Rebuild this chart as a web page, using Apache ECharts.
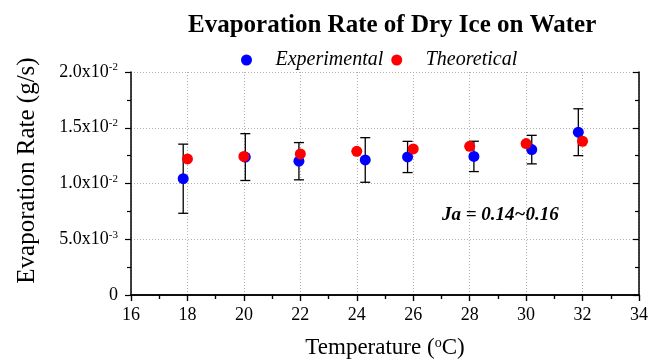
<!DOCTYPE html>
<html>
<head>
<meta charset="utf-8">
<script src="https://cdn.jsdelivr.net/npm/echarts@6/dist/echarts.min.js"></script>
<style>
  html, body { margin: 0; padding: 0; background: #fff; }
  #chart { width: 661px; height: 362px; }
</style>
</head>
<body>
<div id="chart"></div>
<script>
// data
var expTemp = [17.85, 20.05, 21.95, 24.3, 25.8, 28.15, 30.2, 31.85];
var expRate = [0.01043, 0.01237, 0.01200, 0.01211, 0.01238, 0.01243, 0.01304, 0.01460];
var expErr = [0.0031, 0.0021, 0.00167, 0.0020, 0.0014, 0.00136, 0.00128, 0.00210];

var theoTemp = [18, 20, 22, 24, 26, 28, 30, 32];
var theoRate = [0.01220, 0.01243, 0.01265, 0.01289, 0.01310, 0.01333, 0.01358, 0.01379];

var yTickValues = [0, 0.005, 0.01, 0.015, 0.02];
var yTickMantissa = ['0', '5.0', '1.0', '1.5', '2.0'];
var yTickExp = ['', '-3', '-2', '-2', '-2'];

var serif = 'Liberation Serif';
var chart = echarts.init(document.getElementById('chart'));

var expPoints = expTemp.map(function (t, i) { return [t, expRate[i]]; });
var theoPoints = theoTemp.map(function (t, i) { return [t, theoRate[i]]; });
var errData = expTemp.map(function (t, i) { return [t, expRate[i] - expErr[i], expRate[i] + expErr[i]]; });

function yLabel(v) {
  var i = yTickValues.findIndex(function (x) { return Math.abs(x - v) < 1e-9; });
  if (i < 0) return '';
  if (yTickExp[i] === '') return yTickMantissa[i];
  return yTickMantissa[i] + 'x10{sup|' + yTickExp[i] + '}';
}

var axisLine = { show: true, lineStyle: { color: '#000', width: 1.5 } };

var option = {
  backgroundColor: '#fff',
  animation: false,
  title: {
    text: 'Evaporation Rate of Dry Ice on Water',
    left: 183,
    top: 8,
    textStyle: { fontFamily: serif, fontWeight: 'bold', fontSize: 25, color: '#000' }
  },
  legend: {
    left: 236,
    top: 45,
    itemWidth: 24,
    itemHeight: 11,
    itemGap: 8,
    icon: 'circle',
    textStyle: { fontFamily: serif, fontStyle: 'italic', fontSize: 20, color: '#000', padding: [0, 0, 0, 12] },
    data: ['Experimental', 'Theoretical']
  },
  grid: { left: 131, right: 22, top: 72, bottom: 67, outerBoundsMode: 'none' },
  xAxis: [{
    type: 'value',
    min: 16, max: 34, interval: 2,
    name: 'Temperature ({sup|o}C)',
    nameLocation: 'middle',
    nameGap: 41,
    nameTextStyle: {
      fontFamily: serif, fontSize: 23, color: '#000',
      rich: { sup: { fontFamily: serif, fontSize: 14, color: '#000', verticalAlign: 'top', lineHeight: 23 } }
    },
    axisLine: axisLine,
    axisTick: { show: true, length: 6, lineStyle: { color: '#000', width: 1.2 } },
    minorTick: { show: true, splitNumber: 2, length: 4, lineStyle: { color: '#000', width: 1.2 } },
    axisLabel: { fontFamily: serif, fontSize: 18, color: '#000', margin: 11 },
    splitLine: { show: true, lineStyle: { color: '#b0b0b0', type: [1, 2], width: 1 } }
  }, {
    type: 'value',
    position: 'top',
    min: 16, max: 34, interval: 2,
    axisLine: axisLine,
    axisTick: { show: true, inside: true, length: 6, lineStyle: { color: '#000', width: 1.2 } },
    minorTick: { show: true, splitNumber: 2, length: 4, lineStyle: { color: '#000', width: 1.2 } },
    axisLabel: { show: false },
    splitLine: { show: false }
  }],
  yAxis: [{
    type: 'value',
    min: 0, max: 0.02, interval: 0.005,
    name: 'Evaporation Rate (g/s)',
    nameLocation: 'middle',
    nameGap: 91,
    nameTextStyle: { fontFamily: serif, fontSize: 25, color: '#000', padding: [0, 0, 0, 26] },
    axisLine: axisLine,
    axisTick: { show: true, length: 6, lineStyle: { color: '#000', width: 1.2 } },
    minorTick: { show: true, splitNumber: 2, length: 4, lineStyle: { color: '#000', width: 1.2 } },
    axisLabel: {
      fontFamily: serif, fontSize: 18, color: '#000', margin: 13,
      formatter: yLabel,
      rich: { sup: { fontFamily: serif, fontSize: 11, color: '#000', verticalAlign: 'top', lineHeight: 20 } }
    },
    splitLine: { show: true, lineStyle: { color: '#b0b0b0', type: [1, 2], width: 1 } }
  }, {
    type: 'value',
    position: 'right',
    min: 0, max: 0.02, interval: 0.005,
    axisLine: axisLine,
    axisTick: { show: true, inside: true, length: 6, lineStyle: { color: '#000', width: 1.2 } },
    minorTick: { show: true, splitNumber: 2, length: 4, lineStyle: { color: '#000', width: 1.2 } },
    axisLabel: { show: false },
    splitLine: { show: false }
  }],
  graphic: [{
    type: 'text',
    left: 442,
    top: 206,
    style: {
      text: 'Ja = 0.14~0.16',
      fontFamily: serif, fontStyle: 'italic', fontWeight: 'bold', fontSize: 19, fill: '#000'
    }
  }],
  series: [{
    type: 'custom',
    name: 'err',
    z: 1,
    silent: true,
    data: errData,
    renderItem: function (params, api) {
      var lo = api.coord([api.value(0), api.value(1)]);
      var hi = api.coord([api.value(0), api.value(2)]);
      var w = 5;
      var st = { stroke: '#000', lineWidth: 1.3 };
      return {
        type: 'group',
        children: [
          { type: 'line', shape: { x1: lo[0], y1: lo[1], x2: hi[0], y2: hi[1] }, style: st },
          { type: 'line', shape: { x1: lo[0] - w, y1: lo[1], x2: lo[0] + w, y2: lo[1] }, style: st },
          { type: 'line', shape: { x1: hi[0] - w, y1: hi[1], x2: hi[0] + w, y2: hi[1] }, style: st }
        ]
      };
    }
  }, {
    type: 'scatter',
    name: 'Experimental',
    z: 2,
    symbol: 'circle',
    symbolSize: 11,
    itemStyle: { color: '#0000ff', opacity: 1 },
    data: expPoints
  }, {
    type: 'scatter',
    name: 'Theoretical',
    z: 3,
    symbol: 'circle',
    symbolSize: 11,
    itemStyle: { color: '#ff0000', opacity: 1 },
    data: theoPoints
  }]
};

chart.setOption(option);
</script>
</body>
</html>
